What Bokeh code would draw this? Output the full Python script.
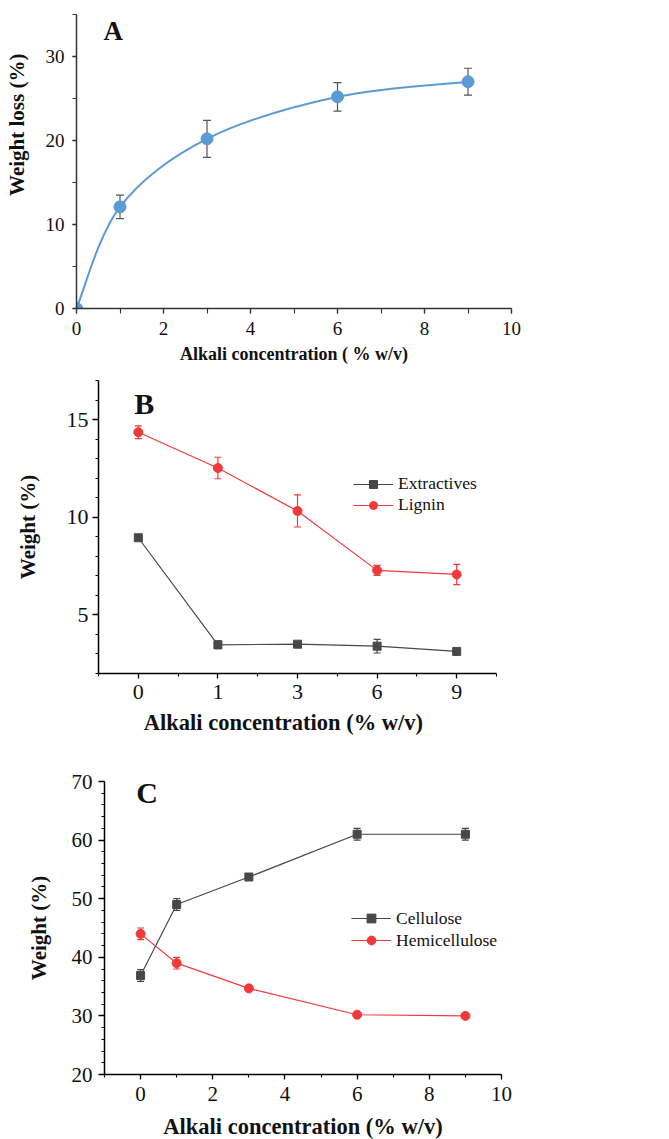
from bokeh.plotting import figure
from bokeh.models import (Range1d, SingleIntervalTicker, FixedTicker, Whisker, TeeHead,
                          ColumnDataSource, Label, Legend, LegendItem)
from bokeh.embed import file_html
from bokeh.resources import INLINE

# ---------------- data ----------------
# Panel A: weight loss
conc_a = [0, 1, 3, 6, 9]
loss_a = [0.0, 12.1, 20.2, 25.2, 27.0]
loss_err = [0.0, 1.4, 2.2, 1.7, 1.6]

# Panel B: extractives & lignin (categorical x)
conc_b = ["0", "1", "3", "6", "9"]
extractives = [8.95, 3.47, 3.50, 3.40, 3.13]
extractives_err = [0.08, 0.2, 0.1, 0.35, 0.05]
lignin = [14.35, 12.52, 10.32, 7.28, 7.07]
lignin_err = [0.33, 0.55, 0.82, 0.26, 0.52]

# Panel C: cellulose & hemicellulose
conc_c = [0, 1, 3, 6, 9]
cellulose = [36.9, 49.0, 53.7, 61.0, 61.0]
cellulose_err = [1.0, 1.0, 0.3, 1.0, 1.0]
hemicellulose = [44.0, 39.0, 34.7, 30.2, 30.0]
hemicellulose_err = [1.0, 1.0, 0.4, 0.2, 0.2]

SERIF = "Liberation Serif"
GRAY = "#484848"
RED = "#f03a3a"
BLUE = "#5b9bd5"
NB = "\u00a0"


def style_axes(p, tick_size, xlabel_size, ylabel_size, axis_color="black"):
    for ax in (p.xaxis[0], p.yaxis[0]):
        ax.axis_line_color = axis_color
        ax.axis_line_width = 1.5
        ax.major_tick_line_color = axis_color
        ax.minor_tick_line_color = axis_color
        ax.major_tick_line_width = 1.3
        ax.minor_tick_line_width = 1.1
        ax.major_tick_in = 0
        ax.major_tick_out = 5
        ax.minor_tick_in = 0
        ax.minor_tick_out = 3
        ax.major_label_text_font = SERIF
        ax.major_label_text_font_size = f"{tick_size}px"
        ax.major_label_text_color = "#111111"
        ax.axis_label_text_font = SERIF
        ax.axis_label_text_font_style = "bold"
        ax.axis_label_text_color = "#111111"
    p.xaxis[0].axis_label_text_font_size = f"{xlabel_size}px"
    p.yaxis[0].axis_label_text_font_size = f"{ylabel_size}px"
    p.xgrid.visible = False
    p.ygrid.visible = False
    p.outline_line_color = None


def errbars(p, xs, ys, errs, color, size=7):
    up = [y + e for y, e in zip(ys, errs)]
    lo = [y - e for y, e in zip(ys, errs)]
    src = ColumnDataSource(dict(x=xs, upper=up, lower=lo))
    w = Whisker(source=src, base="x", upper="upper", lower="lower",
                line_color=color, line_width=1.2,
                upper_head=TeeHead(size=size, line_color=color, line_width=1.2),
                lower_head=TeeHead(size=size, line_color=color, line_width=1.2))
    p.add_layout(w)


# ---------------- Panel A ----------------
pa = figure(frame_width=435, frame_height=294, min_border_left=76, min_border_right=40,
            min_border_top=14, min_border_bottom=67,
            x_range=Range1d(0, 10), y_range=Range1d(0, 35),
            output_backend="svg", toolbar_location=None)
style_axes(pa, 19, 18, 21, axis_color="#333333")
pa.xaxis.ticker = SingleIntervalTicker(interval=2, num_minor_ticks=2)
pa.yaxis.ticker = SingleIntervalTicker(interval=10, num_minor_ticks=2)
pa.xaxis.minor_tick_out = 5
pa.yaxis.minor_tick_out = 4
pa.yaxis.major_tick_out = 4
pa.xaxis.axis_label = "Alkali concentration ( % w/v)"
pa.yaxis.axis_label = NB * 14 + "Weight loss (%)"
pa.xaxis.major_label_standoff = 8
pa.yaxis.major_label_standoff = 8
pa.xaxis.axis_label_standoff = 6
pa.yaxis.axis_label_standoff = 14

# smooth curve (Catmull-Rom -> cubic Bezier) through the measured points
n = len(conc_a)
bx0, by0, bx1, by1, cx0, cy0, cx1, cy1 = [], [], [], [], [], [], [], []
for i in range(n - 1):
    xm, ym = (conc_a[i - 1], loss_a[i - 1]) if i > 0 else (conc_a[i], loss_a[i])
    xp, yp = (conc_a[i + 2], loss_a[i + 2]) if i + 2 < n else (conc_a[i + 1], loss_a[i + 1])
    bx0.append(conc_a[i]); by0.append(loss_a[i])
    bx1.append(conc_a[i + 1]); by1.append(loss_a[i + 1])
    cx0.append(conc_a[i] + (conc_a[i + 1] - xm) / 6); cy0.append(loss_a[i] + (loss_a[i + 1] - ym) / 6)
    cx1.append(conc_a[i + 1] - (xp - conc_a[i]) / 6); cy1.append(loss_a[i + 1] - (yp - loss_a[i]) / 6)
pa.bezier(x0=bx0, y0=by0, x1=bx1, y1=by1, cx0=cx0, cy0=cy0, cx1=cx1, cy1=cy1,
          line_color=BLUE, line_width=2)
errbars(pa, conc_a[1:], loss_a[1:], loss_err[1:], "#555555", size=8)
pa.scatter(conc_a, loss_a, size=12, marker="circle", color=BLUE)
pa.add_layout(Label(x=0.62, y=33.0, text="A", text_font=SERIF, text_font_style="bold",
                    text_font_size="27px", text_color="#111111", text_baseline="alphabetic"))

# ---------------- Panel B ----------------
idx_b = list(range(len(conc_b)))
pb = figure(frame_width=398, frame_height=293, min_border_left=98, min_border_right=40,
            min_border_top=5, min_border_bottom=77,
            x_range=Range1d(-0.5, len(conc_b) - 0.5), y_range=Range1d(2, 17),
            output_backend="svg", toolbar_location=None)
style_axes(pb, 22, 22.5, 21)
pb.xaxis.ticker = FixedTicker(ticks=idx_b, minor_ticks=[i - 0.5 for i in idx_b] + [len(conc_b) - 0.5])
pb.xaxis.major_label_overrides = {i: c for i, c in zip(idx_b, conc_b)}
pb.yaxis.ticker = SingleIntervalTicker(interval=5, num_minor_ticks=5)
pb.yaxis.major_tick_out = 6
pb.xaxis.axis_label = "Alkali concentration (% w/v)" + NB * 5
pb.yaxis.axis_label = "Weight (%)"
pb.xaxis.major_label_standoff = 6
pb.yaxis.major_label_standoff = 4
pb.xaxis.axis_label_standoff = 8
pb.yaxis.axis_label_standoff = 24

l1 = pb.line(idx_b, extractives, line_color=GRAY, line_width=1.2)
errbars(pb, idx_b, extractives, extractives_err, GRAY)
s1 = pb.scatter(idx_b, extractives, marker="square", size=8, color=GRAY)
l2 = pb.line(idx_b, lignin, line_color=RED, line_width=1.2)
errbars(pb, idx_b, lignin, lignin_err, RED)
s2 = pb.scatter(idx_b, lignin, marker="circle", size=9, color=RED)
pb.add_layout(Label(x=-0.05, y=15.8, text="B", text_font=SERIF, text_font_style="bold",
                    text_font_size="30px", text_color="#111111", text_baseline="alphabetic"))
leg_b = Legend(items=[LegendItem(label="Extractives", renderers=[l1, s1]),
                      LegendItem(label="Lignin", renderers=[l2, s2])],
               location=(255, 158), padding=0, margin=0, spacing=0,
               glyph_width=40, glyph_height=20, label_height=20, label_standoff=5,
               label_text_font=SERIF, label_text_font_size="17.5px", label_text_color="#111111",
               background_fill_alpha=0, border_line_alpha=0)
pb.add_layout(leg_b)

# ---------------- Panel C ----------------
pc = figure(frame_width=397, frame_height=293, min_border_left=104, min_border_right=30,
            min_border_top=31, min_border_bottom=64,
            x_range=Range1d(-1, 10), y_range=Range1d(20, 70),
            output_backend="svg", toolbar_location=None)
style_axes(pc, 21, 22.5, 21)
pc.xaxis.ticker = SingleIntervalTicker(interval=2, num_minor_ticks=2)
pc.yaxis.ticker = SingleIntervalTicker(interval=10, num_minor_ticks=5)
pc.yaxis.major_tick_out = 6
pc.xaxis.axis_label = "Alkali concentration (% w/v)"
pc.yaxis.axis_label = "Weight (%)"
pc.xaxis.major_label_standoff = 7
pc.yaxis.major_label_standoff = 6
pc.xaxis.axis_label_standoff = 10
pc.yaxis.axis_label_standoff = 18

l3 = pc.line(conc_c, cellulose, line_color=GRAY, line_width=1.2)
errbars(pc, conc_c, cellulose, cellulose_err, GRAY)
s3 = pc.scatter(conc_c, cellulose, marker="square", size=8, color=GRAY)
l4 = pc.line(conc_c, hemicellulose, line_color=RED, line_width=1.2)
errbars(pc, conc_c, hemicellulose, hemicellulose_err, RED)
s4 = pc.scatter(conc_c, hemicellulose, marker="circle", size=9, color=RED)
pc.add_layout(Label(x=-0.12, y=68.2, text="C", text_font=SERIF, text_font_style="bold",
                    text_font_size="30px", text_color="#111111", text_baseline="alphabetic"))
leg_c = Legend(items=[LegendItem(label="Cellulose", renderers=[l3, s3]),
                      LegendItem(label="Hemicellulose", renderers=[l4, s4])],
               location=(247, 123), padding=0, margin=0, spacing=0,
               glyph_width=40, glyph_height=22, label_height=22, label_standoff=5,
               label_text_font=SERIF, label_text_font_size="17.5px", label_text_color="#111111",
               background_fill_alpha=0, border_line_alpha=0)
pc.add_layout(leg_c)

open("out.html", "w").write(file_html([pa, pb, pc], INLINE))
